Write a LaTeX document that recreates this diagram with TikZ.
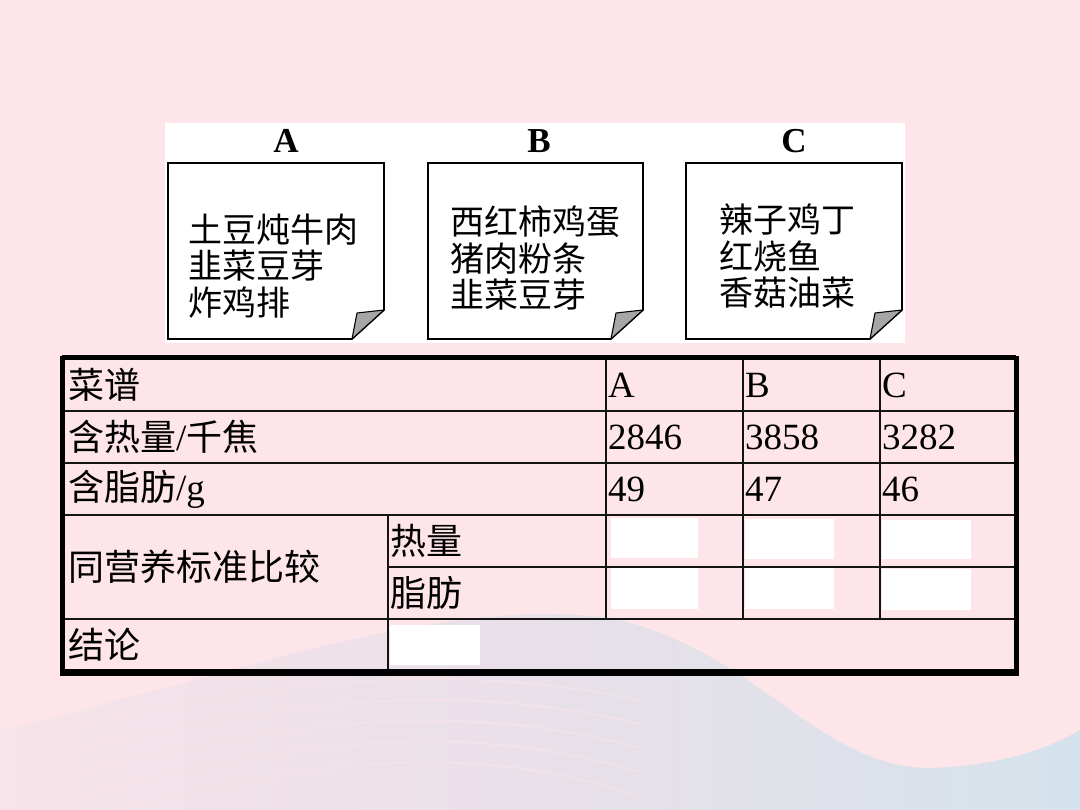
\documentclass[tikz,border=0pt]{standalone}
\usepackage{fontspec}
\setmainfont{Liberation Serif}
\newfontfamily\cjk{Noto Sans CJK SC}
\definecolor{bgpink}{HTML}{FDE5E9}
\definecolor{wavel}{HTML}{F6E3E9}
\definecolor{wavem}{HTML}{E6E0E9}
\definecolor{waver}{HTML}{CFE2EC}
\definecolor{flapgray}{HTML}{A6A6A6}
\tikzset{
  card/.style={draw=black, line width=1.6pt, fill=white, line join=miter},
  flap/.style={draw=black, line width=1.1pt, fill=flapgray, line join=round},
  cardtxt/.style={anchor=west, align=left, inner sep=0pt, font=\cjk\fontsize{34}{36.5}\selectfont},
  lbl/.style={inner sep=0pt, font=\bfseries\fontsize{35}{35}\selectfont},
  cell/.style={anchor=west, inner sep=0pt, font=\cjk\fontsize{36}{36}\selectfont},
  num/.style={anchor=west, inner sep=0pt, font=\fontsize{37}{37}\selectfont},
  gridline/.style={line width=2.6pt, draw=black!92},
  outerline/.style={line width=5pt, draw=black},
  blank/.style={fill=white, draw=none}
}
\begin{document}
\begin{tikzpicture}[x=1pt, y=-1pt]
\useasboundingbox (0,0) rectangle (1080,810);
% background
\fill[bgpink] (0,0) rectangle (1080,810);
\begin{scope}
\path[clip] (0,730) .. controls (220,680) and (450,590) .. (620,620)
  .. controls (760,655) and (820,768) .. (930,768)
  .. controls (1000,766) and (1050,748) .. (1080,730)
  -- (1080,810) -- (0,810) -- cycle;
\shade[left color=wavel, right color=waver, middle color=wavem, opacity=0.85]
  (0,560) rectangle (1080,810);
\foreach \d in {0,24,48,72,96}{
  \draw[bgpink, opacity=0.45, line width=2pt]
    (0,740+\d) .. controls (200,700+\d) and (400,650+0.7*\d) .. (640,700+\d);
}
\end{scope}
% picture panel
\fill[white] (165,123) rectangle (905,343);
% cards
\draw[card] (168,163) -- (384,163) -- (384,310) -- (352,339) -- (168,339) -- cycle;
\draw[flap] (384,310) -- (357,313) -- (352,339) -- cycle;
\draw[card] (428,163) -- (643,163) -- (643,310) -- (611,339) -- (428,339) -- cycle;
\draw[flap] (643,310) -- (616,313) -- (611,339) -- cycle;
\draw[card] (686,163) -- (902,163) -- (902,310) -- (870,339) -- (686,339) -- cycle;
\draw[flap] (902,310) -- (875,313) -- (870,339) -- cycle;
\node[lbl] (la) at (286,141) {A};
\node[lbl] (lb) at (539,141) {B};
\node[lbl] (lc) at (794,141) {C};
\node[cardtxt] (ta) at (188,266) {土豆炖牛肉\\韭菜豆芽\\炸鸡排};
\node[cardtxt] (tb) at (450,258) {西红柿鸡蛋\\猪肉粉条\\韭菜豆芽};
\node[cardtxt] (tc) at (719,256) {辣子鸡丁\\红烧鱼\\香菇油菜};
% blank white boxes
\fill[blank] (611,518) rectangle (698,558);
\fill[blank] (745,519) rectangle (834,559);
\fill[blank] (882,520) rectangle (971,559);
\fill[blank] (611,568) rectangle (698,609);
\fill[blank] (745,568) rectangle (834,609);
\fill[blank] (882,569) rectangle (971,610);
\fill[blank] (390,625) rectangle (480,665);
% table grid
\draw[gridline] (62,411) -- (1016,411);
\draw[gridline] (62,463) -- (1016,463);
\draw[gridline] (62,515) -- (1016,515);
\draw[gridline] (388,567) -- (1016,567);
\draw[gridline] (62,619) -- (1016,619);
\draw[gridline] (388,515) -- (388,672);
\draw[gridline] (606,358) -- (606,619);
\draw[gridline] (743,358) -- (743,619);
\draw[gridline] (880,358) -- (880,619);
\draw[outerline] (62,358) -- (1016,358);
\draw[outerline] (62,356) -- (62,676);
\draw[outerline] (1016,356) -- (1016,676);
\draw[line width=7pt] (60,672) -- (1019,672);
% table text
\node[cell] (c11) at (68,385) {菜谱};
\node[cell] (c21) at (68,437) {含热量{\rmfamily\fontsize{37}{37}\selectfont/}千焦};
\node[cell] (c31) at (68,489) {含脂肪{\rmfamily\fontsize{37}{37}\selectfont/g}};
\node[cell] (c41) at (68,567) {同营养标准比较};
\node[cell] (c42) at (390,541) {热量};
\node[cell] (c52) at (390,593) {脂肪};
\node[cell] (c61) at (68,645) {结论};
\node[num] (ha) at (608,385) {A};
\node[num] (hb) at (745,385) {B};
\node[num] (hc) at (882,385) {C};
\node[num] (ea) at (608,437) {2846};
\node[num] (eb) at (745,437) {3858};
\node[num] (ec) at (882,437) {3282};
\node[num] (fa) at (608,489) {49};
\node[num] (fb) at (745,489) {47};
\node[num] (fc) at (882,489) {46};
\end{tikzpicture}
\end{document}
